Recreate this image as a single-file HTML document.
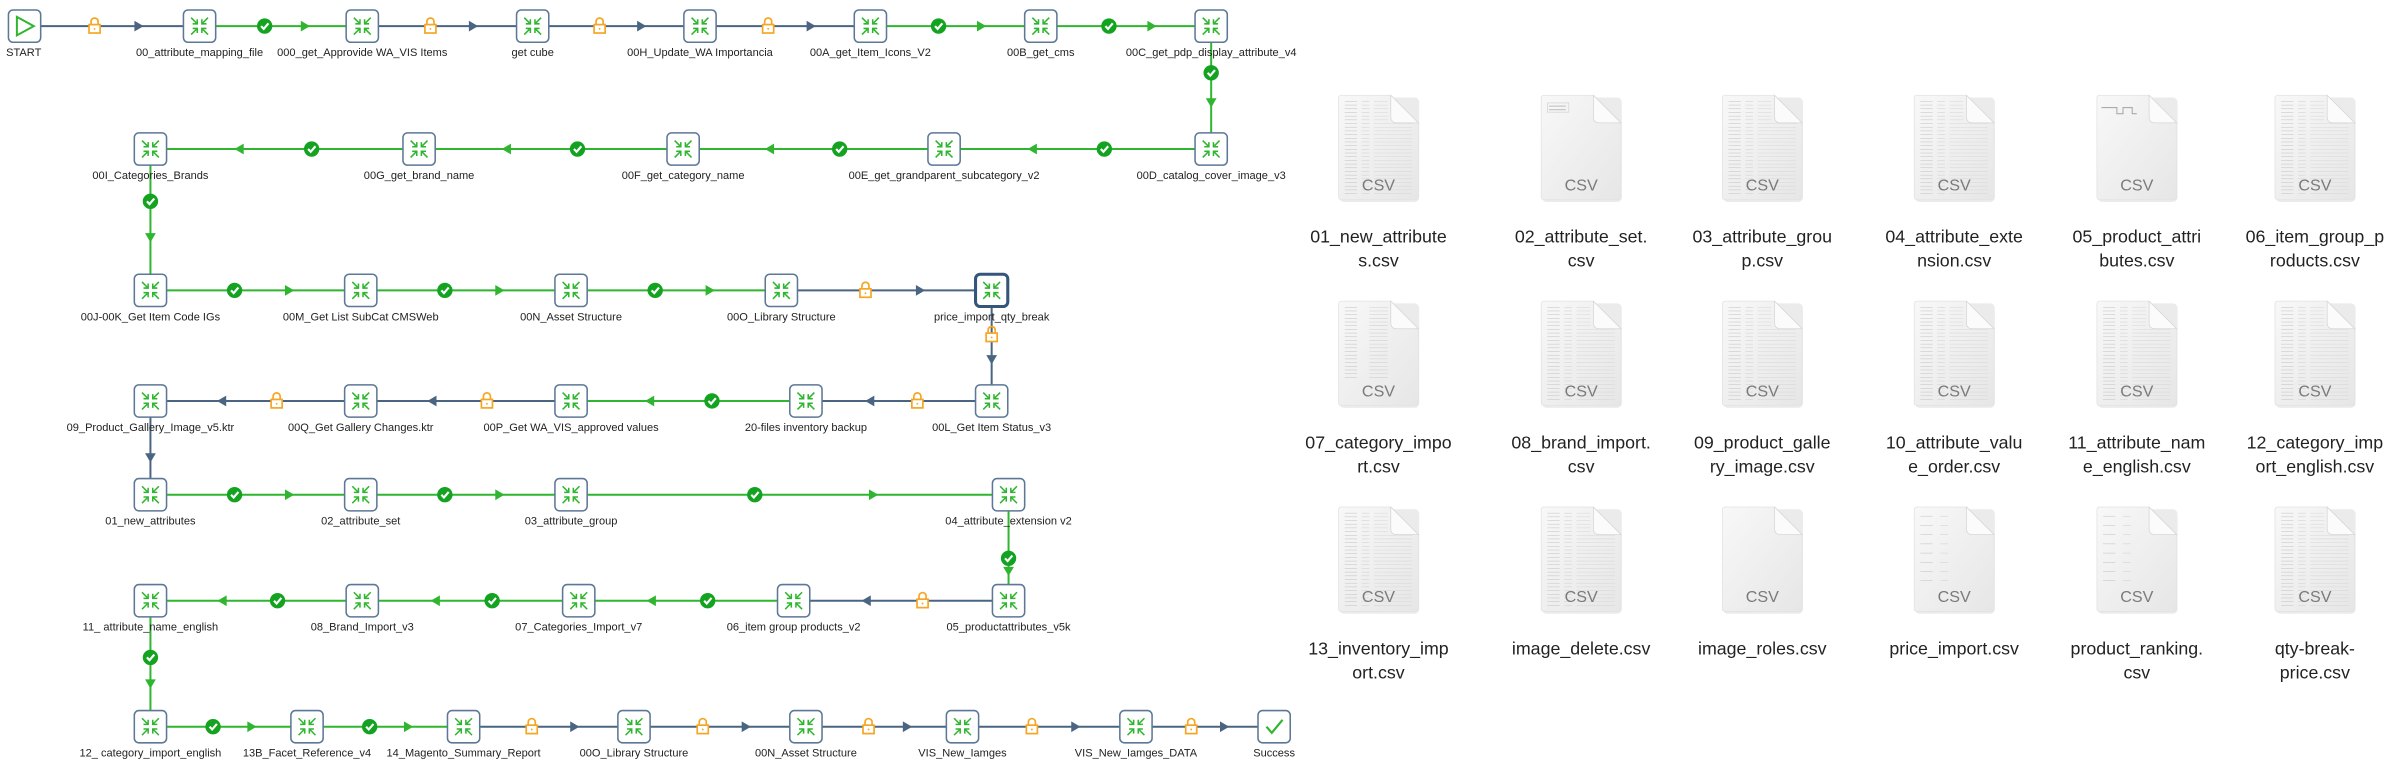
<!DOCTYPE html>
<html><head><meta charset="utf-8">
<style>
html,body{margin:0;padding:0;background:#fff;width:2407px;height:782px;overflow:hidden}
svg{display:block}
text{font-family:"Liberation Sans",sans-serif}
</style></head>
<body>
<svg id="s" width="2407" height="782" viewBox="0 0 1568 509" preserveAspectRatio="none" xmlns="http://www.w3.org/2000/svg">
<defs>
<linearGradient id="pg" x1="0" y1="0" x2="1" y2="1">
<stop offset="0" stop-color="#f8f8f8"/><stop offset="1" stop-color="#e6e6e6"/>
</linearGradient>
</defs>
<rect width="1568" height="509" fill="#fff"/>
<g id="conn"></g><g id="nodes"></g><g id="files"></g>
</svg>
<script>
var NS="http://www.w3.org/2000/svg";
function el(p,t,a,txt){var e=document.createElementNS(NS,t);for(var k in a)e.setAttribute(k,a[k]);if(txt!==undefined)e.textContent=txt;p.appendChild(e);return e;}
var C=document.getElementById('conn'),N=document.getElementById('nodes'),F=document.getElementById('files');
var GR="#2fb52f",BL="#4a6582",OR="#f5a623";
var H=10.5;
function node(x,y,label,opt){
  opt=opt||{};
  var sw=opt.bold?2:1;
  el(N,'rect',{x:x-H,y:y-H,width:2*H,height:2*H,rx:3,fill:'#fff',stroke:opt.bold?'#36557a':'#5c7896','stroke-width':sw});
  if(opt.start){
    el(N,'path',{d:'M'+(x-5)+','+(y-6)+' L'+(x+6)+','+y+' L'+(x-5)+','+(y+6)+' Z',fill:'none',stroke:GR,'stroke-width':1.3});
  }else if(opt.success){
    el(N,'path',{d:'M'+(x-5)+','+y+' L'+(x-1.5)+','+(y+4)+' L'+(x+5.5)+','+(y-4.5),fill:'none',stroke:GR,'stroke-width':1.4});
  }else{
    var g=el(N,'g',{stroke:GR,'stroke-width':1,fill:'none'});
    [[-1,-1],[1,-1],[-1,1],[1,1]].forEach(function(d){
      var ox=x+d[0]*5.5,oy=y+d[1]*5.5,ix=x+d[0]*1.5,iy=y+d[1]*1.5;
      el(g,'line',{x1:ox,y1:oy,x2:ix,y2:iy});
      el(g,'path',{d:'M'+ix+','+(iy+d[1]*3)+' L'+ix+','+iy+' L'+(ix+d[0]*3)+','+iy});
    });
  }
  var ta=opt.left?'start':'middle';
  el(N,'text',{x:opt.left?x-12:x,y:y+H+9,'font-size':7.2,fill:'#222','text-anchor':ta},label);
}
function arrowHead(x,y,dx,dy,col){
  var L=6,W=3.5;
  var p=[x+dx*L/2,y+dy*L/2, x-dx*L/2-dy*W,y-dy*L/2+dx*W, x-dx*L/2+dy*W,y-dy*L/2-dx*W];
  el(C,'path',{d:'M'+p[0]+','+p[1]+' L'+p[2]+','+p[3]+' L'+p[4]+','+p[5]+' Z',fill:col});
}
function check(x,y){
  el(C,'circle',{cx:x,cy:y,r:5,fill:'#13a321'});
  el(C,'path',{d:'M'+(x-2.3)+','+y+' L'+(x-0.6)+','+(y+1.8)+' L'+(x+2.5)+','+(y-1.8),fill:'none',stroke:'#fff','stroke-width':1.4});
}
function lock(x,y){
  el(C,'path',{d:'M'+(x-2.3)+','+(y-1)+' V'+(y-3)+' A2.3,2.3 0 0 1 '+(x+2.3)+','+(y-3)+' V'+(y-1),fill:'none',stroke:OR,'stroke-width':1.1});
  el(C,'rect',{x:x-3.6,y:y-1,width:7.2,height:5.5,fill:'#fff',stroke:OR,'stroke-width':1.1});
  el(C,'circle',{cx:x,cy:y+1.8,r:0.6,fill:OR});
}
function link(x1,y1,x2,y2,type,mpos){
  var col=type==='c'?GR:BL;
  el(C,'line',{x1:x1,y1:y1,x2:x2,y2:y2,stroke:col,'stroke-width':1.3});
  var dx=Math.sign(x2-x1),dy=Math.sign(y2-y1);
  var m=mpos!==undefined?mpos:0.4;
  var mx=x1+(x2-x1)*m,my=y1+(y2-y1)*m;
  var ex=x2-dx*H,ey=y2-dy*H;
  var ax=(mx+ex)/2,ay=(my+ey)/2;
  arrowHead(ax,ay,dx,dy,col);
  if(type==='c')check(mx,my);else lock(mx,my);
}
var R=[17,97,189,261,322,391,473];
var r1=[[16,'START'],[130,'00_attribute_mapping_file'],[236,'000_get_Approvide WA_VIS Items'],[347,'get cube'],[456,'00H_Update_WA Importancia'],[567,'00A_get_Item_Icons_V2'],[678,'00B_get_cms'],[789,'00C_get_pdp_display_attribute_v4']];
var t1=['l','c','l','l','l','c','c'];
for(var i=0;i<7;i++)link(r1[i][0],R[0],r1[i+1][0],R[0],t1[i],0.4);
link(789,R[0],789,R[1],'c',0.38);
var r2=[[789,'00D_catalog_cover_image_v3'],[615,'00E_get_grandparent_subcategory_v2'],[445,'00F_get_category_name'],[273,'00G_get_brand_name'],[98,'00I_Categories_Brands']];
for(i=0;i<4;i++)link(r2[i][0],R[1],r2[i+1][0],R[1],'c',0.4);
link(98,R[1],98,R[2],'c',0.37);
var r3=[[98,'00J-00K_Get Item Code IGs'],[235,'00M_Get List SubCat CMSWeb'],[372,'00N_Asset Structure'],[509,'00O_Library Structure'],[646,'price_import_qty_break']];
var t3=['c','c','c','l'];
for(i=0;i<4;i++)link(r3[i][0],R[2],r3[i+1][0],R[2],t3[i],0.4);
link(646,R[2],646,R[3],'l',0.4);
var r4=[[646,'00L_Get Item Status_v3'],[525,'20-files inventory backup'],[372,'00P_Get WA_VIS_approved values'],[235,'00Q_Get Gallery Changes.ktr'],[98,'09_Product_Gallery_Image_v5.ktr']];
var t4=['l','c','l','l'];
for(i=0;i<4;i++)link(r4[i][0],R[3],r4[i+1][0],R[3],t4[i],0.4);
el(C,'line',{x1:98,y1:R[3],x2:98,y2:R[4],stroke:BL,'stroke-width':1.3});
arrowHead(98,R[3]+37,0,1,BL);
var r5=[[98,'01_new_attributes'],[235,'02_attribute_set'],[372,'03_attribute_group'],[657,'04_attribute_extension v2']];
for(i=0;i<3;i++)link(r5[i][0],R[4],r5[i+1][0],R[4],'c',i==2?0.42:0.4);
link(657,R[4],657,R[5],'c',0.6);
var r6=[[657,'05_productattributes_v5k'],[517,'06_item group products_v2'],[377,'07_Categories_Import_v7'],[236,'08_Brand_Import_v3'],[98,'11_ attribute_name_english']];
var t6=['l','c','c','c'];
for(i=0;i<4;i++)link(r6[i][0],R[5],r6[i+1][0],R[5],t6[i],0.4);
link(98,R[5],98,R[6],'c',0.45);
var r7=[[98,'12_ category_import_english'],[200,'13B_Facet_Reference_v4'],[302,'14_Magento_Summary_Report'],[413,'00O_Library Structure'],[525,'00N_Asset Structure'],[627,'VIS_New_Iamges'],[740,'VIS_New_Iamges_DATA'],[830,'Success']];
var t7=['c','c','l','l','l','l','l'];
for(i=0;i<7;i++)link(r7[i][0],R[6],r7[i+1][0],R[6],t7[i],0.4);
[r1,r2,r3,r4,r5,r6,r7].forEach(function(r,ri){r.forEach(function(n){
  var o={};
  if(n[1]==='START'){o.start=1;o.left=1;}
  if(n[1]==='Success')o.success=1;
  if(n[1]==='price_import_qty_break')o.bold=1;
  node(n[0],R[ri],n[1],o);
});});
var cols=[898,1030,1148,1273,1392,1508];
var rowsY=[62,196,330];
var files=[
['01_new_attribute','s.csv',1],['02_attribute_set.','csv',2],['03_attribute_grou','p.csv',1],['04_attribute_exte','nsion.csv',1],['05_product_attri','butes.csv',3],['06_item_group_p','roducts.csv',1],
['07_category_impo','rt.csv',4],['08_brand_import.','csv',1],['09_product_galle','ry_image.csv',1],['10_attribute_valu','e_order.csv',1],['11_attribute_nam','e_english.csv',1],['12_category_imp','ort_english.csv',1],
['13_inventory_imp','ort.csv',1],['image_delete.csv','',1],['image_roles.csv','',0],['price_import.csv','',5],['product_ranking.','csv',5],['qty-break-','price.csv',1]];
files.forEach(function(f,k){
  var cx=cols[k%6],y=rowsY[Math.floor(k/6)];
  var x=cx-26,w=52,h=68;
  var g=el(F,'g',{});
  el(g,'rect',{x:x+0.5,y:y+1.5,width:w,height:h,rx:3,fill:'#d8d8d8',opacity:0.5});
  el(g,'path',{d:'M'+(x+2)+','+y+' H'+(x+34)+' L'+(x+w)+','+(y+18)+' V'+(y+h-2)+' Q'+(x+w)+','+(y+h)+' '+(x+w-2)+','+(y+h)+' H'+(x+2)+' Q'+x+','+(y+h)+' '+x+','+(y+h-2)+' V'+(y+2)+' Q'+x+','+y+' '+(x+2)+','+y+' Z',fill:'url(#pg)',stroke:'#e2e2e2','stroke-width':0.5});
  if(f[2]===1){
    for(var j=0;j<26;j++){var ly=y+4+j*2.4;if(ly>y+h-4)break;
      var xr=(ly<y+18)?x+32:x+w-4;
      el(g,'line',{x1:x+4,y1:ly,x2:x+12,y2:ly,stroke:'#c4c4c4','stroke-width':0.35});
      el(g,'line',{x1:x+15,y1:ly,x2:x+20,y2:ly,stroke:'#d0d0d0','stroke-width':0.35});
      el(g,'line',{x1:x+23,y1:ly,x2:xr,y2:ly,stroke:'#d8d8d8','stroke-width':0.35});
    }
  }else if(f[2]===2){
    el(g,'rect',{x:x+4,y:y+5,width:14,height:6,fill:'none',stroke:'#ccc','stroke-width':0.4});
    el(g,'line',{x1:x+5,y1:y+7,x2:x+16,y2:y+7,stroke:'#999','stroke-width':0.4});
    el(g,'line',{x1:x+5,y1:y+9.5,x2:x+16,y2:y+9.5,stroke:'#999','stroke-width':0.4});
  }else if(f[2]===3){
    el(g,'path',{d:'M'+(x+3)+','+(y+8)+' h10 v4 h4 v-4 h6 v4 h3',fill:'none',stroke:'#aaa','stroke-width':0.7});
  }else if(f[2]===4){
    for(var j=0;j<20;j++){var ly=y+4+j*2.4;
      el(g,'line',{x1:x+4,y1:ly,x2:x+12,y2:ly,stroke:'#c4c4c4','stroke-width':0.35});
      el(g,'line',{x1:x+20,y1:ly,x2:x+32,y2:ly,stroke:'#d0d0d0','stroke-width':0.35});}
  }else if(f[2]===5){
    for(var j=0;j<8;j++){var ly=y+6+j*6;
      el(g,'line',{x1:x+4,y1:ly,x2:x+12,y2:ly,stroke:'#c4c4c4','stroke-width':0.35});
      el(g,'line',{x1:x+17,y1:ly,x2:x+22,y2:ly,stroke:'#d0d0d0','stroke-width':0.35});}
  }
  el(g,'path',{d:'M'+(x+34)+','+y+' V'+(y+14)+' Q'+(x+34)+','+(y+18)+' '+(x+38)+','+(y+18)+' H'+(x+w)+' Z',fill:'#fbfbfb',stroke:'#d6d6d6','stroke-width':0.5});
  el(g,'text',{x:cx,y:y+h-6,'font-size':10.5,fill:'#7a7a7a','text-anchor':'middle'},'CSV');
  var ly1=rowsY[Math.floor(k/6)]+h+28;
  el(F,'text',{x:cx,y:ly1,'font-size':11.6,fill:'#222','text-anchor':'middle'},f[0]);
  if(f[1])el(F,'text',{x:cx,y:ly1+15.5,'font-size':11.6,fill:'#222','text-anchor':'middle'},f[1]);
});
</script>
</body></html>
